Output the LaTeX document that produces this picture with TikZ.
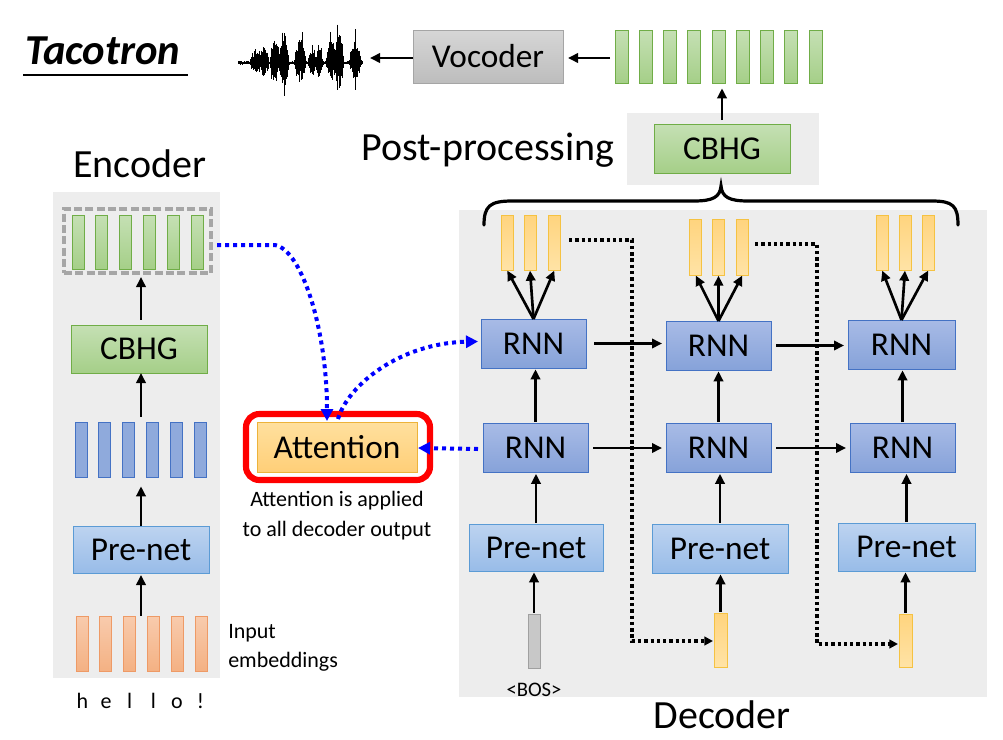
\documentclass[tikz,border=0pt]{standalone}
\usepackage{fontspec}
\setmainfont{Carlito}
\usetikzlibrary{arrows.meta,calc}
\definecolor{bgG}{HTML}{EDEDED}
\definecolor{grnT}{HTML}{C5E0B4}
\definecolor{grnB}{HTML}{A5CF88}
\definecolor{grnD}{HTML}{70AD47}
\definecolor{bluF}{HTML}{8FAADC}
\definecolor{bluD}{HTML}{4472C4}
\definecolor{rnnT}{HTML}{A8BBE6}
\definecolor{rnnB}{HTML}{86A2D9}
\definecolor{preT}{HTML}{BDD3F0}
\definecolor{preB}{HTML}{98BCE8}
\definecolor{preD}{HTML}{5B9BD5}
\definecolor{orgT}{HTML}{F8CBAD}
\definecolor{orgB}{HTML}{F4B183}
\definecolor{orgD}{HTML}{EE9A66}
\definecolor{ylwT}{HTML}{FFD47E}
\definecolor{ylwB}{HTML}{FFE3A6}
\definecolor{ylwD}{HTML}{F5C242}
\definecolor{attT}{HTML}{FFE09E}
\definecolor{attB}{HTML}{FFCF78}
\definecolor{attD}{HTML}{EDB33A}
\definecolor{vocT}{HTML}{D6D6D6}
\definecolor{vocB}{HTML}{BDBDBD}
\definecolor{vocD}{HTML}{A5A5A5}
\definecolor{bosF}{HTML}{C8C8C8}
\definecolor{bosD}{HTML}{A0A0A0}
\definecolor{dashG}{HTML}{A6A6A6}
\begin{document}
\begin{tikzpicture}[x=0.75pt,y=-0.75pt,
  sz/.style 2 args={minimum width=#1*0.75pt, minimum height=#2*0.75pt, inner sep=0pt, outer sep=0pt},
  big/.style={font=\fontsize{30}{36}\selectfont},
  mid/.style={font=\fontsize{25}{30}\selectfont},
  small/.style={font=\fontsize{16.5}{19.5}\selectfont},
  gbar/.style={draw=grnD, line width=0.6pt, top color=grnT, bottom color=grnB, sz={12}{54}},
  bbar/.style={draw=bluD, line width=0.6pt, fill=bluF, sz={12}{55}},
  obar/.style={draw=orgD, line width=0.6pt, top color=orgT, bottom color=orgB, sz={12}{55}},
  ybar/.style={draw=ylwD, line width=0.6pt, top color=ylwT, bottom color=ylwB, sz={12}{55}},
  cbhgbox/.style={draw=grnD, line width=0.6pt, top color=grnT, bottom color=grnB, sz={136}{48}, mid},
  rnnbox/.style={draw=bluD, line width=0.6pt, top color=rnnT, bottom color=rnnB, sz={105}{49}, mid},
  prebox/.style={draw=preD, line width=0.6pt, top color=preT, bottom color=preB, sz={136}{48}, mid},
  arr/.style={line width=2pt, -{Triangle[length=7.5pt,width=7pt]}},
  bdot/.style={draw={rgb,255:red,0;green,0;blue,255}, line width=3pt, dash pattern=on 3pt off 3pt, -{Triangle[length=9pt,width=9pt]}},
  kdot/.style={line width=2.4pt, dash pattern=on 2.5pt off 2.2pt, -{Triangle[length=6.5pt,width=6.5pt]}}
]
\useasboundingbox (0,0) rectangle (1003,739);
% backgrounds
\fill[bgG] (53,192) rectangle (220,678);
\fill[bgG] (459,210) rectangle (987,697);
\fill[bgG] (627,113) rectangle (819,185);

% title
\node[anchor=base west, inner sep=0pt, font=\fontsize{32}{38}\selectfont\bfseries\itshape] (title) at (25,64) {Tacotron};
\draw[line width=1.6pt] (title.south west |- 0,75) ++(-2,0) -- (188,75);

% waveform
\pgfmathsetseed{11}
\draw[line width=1.2pt] (238,63) -- (362,63);
\foreach \x in {238,238.5,...,362}{
  \pgfmathsetmacro\e{2 + 12*max(0,1-((\x-255)/5)^2) + 16*max(0,1-((\x-264)/5)^2) + 24*max(0,1-((\x-275)/5)^2) + 30*max(0,1-((\x-284)/5)^2) + 22*max(0,1-((\x-300)/6)^2) + 16*max(0,1-((\x-312)/4)^2) + 17*max(0,1-((\x-319)/4)^2) + 22*max(0,1-((\x-331)/5)^2) + 30*max(0,1-((\x-339)/5)^2) + 20*max(0,1-((\x-355)/6)^2)}
  \pgfmathsetmacro\s{rnd>0.93 ? 1.6 : 1}
  \pgfmathsetmacro\u{\s*\e*(0.45+0.55*rnd)}
  \pgfmathsetmacro\d{\s*0.8*\e*(0.35+0.65*rnd)}
  \draw[line width=0.55pt] (\x,63-\u) -- (\x,63+\d);
}
\coordinate (wave) at (370,58);

% vocoder and top bars
\node[draw=vocD, line width=0.6pt, top color=vocT, bottom color=vocB, sz={150}{53}, mid] (voc) at (488,56.5) {Vocoder};
\draw[arr] (voc.west |- wave) -- (wave);
\foreach \i in {1,...,9}{
  \node[gbar, sz={13}{53}] (tb\i) at ({621.5+24.25*(\i-1)},56.5) {};
}
\draw[arr, shorten <=3.75pt, shorten >=3.75pt] (tb1.west |- wave) -- (voc.east |- wave);

% post-processing
\node[cbhgbox, sz={136}{49}] (cbhgp) at (722,148.5) {CBHG};
\draw[arr, shorten <=3pt, shorten >=4pt] (cbhgp.north) -- (cbhgp.north |- tb5.south);
\node[big, anchor=base, inner sep=0pt] (pp) at (488,160) {Post-processing};

% brace
\draw[line width=2.4pt, line cap=round] (484,225) .. controls (484,206) and (490,201) .. (512,201) -- (694,201) .. controls (713,201) and (720,197) .. (721,186) .. controls (722,197) and (729,201) .. (748,201) -- (932,201) .. controls (953,201) and (958,206) .. (958,225);

% encoder
\node[big, anchor=base, inner sep=0pt] (enc) at (140,177) {Encoder};
\node[draw=dashG, line width=2.4pt, dash pattern=on 6pt off 2.5pt, sz={147}{64}] (encout) at (137.5,241) {};
\foreach \i in {1,...,6}{
  \node[gbar] (eg\i) at ({78+23.8*(\i-1)},242) {};
  \node[bbar] (eb\i) at ({81+23.8*(\i-1)},449.5) {};
  \node[obar] (eo\i) at ({82+23.8*(\i-1)},643.5) {};
}
\node[cbhgbox] (cbhge) at (139,349) {CBHG};
\node[prebox, sz={136}{47}] (pree) at (141,549.5) {Pre-net};
\draw[arr, shorten <=4pt, shorten >=3pt] (cbhge.north -| 141,0) -- (encout.south -| 141,0);
\draw[arr, shorten <=4pt] (eb3.north -| 141,0) -- (cbhge.south -| 141,0);
\draw[arr, shorten >=7pt] (pree.north -| 141,0) -- (eb3.south -| 141,0);
\draw[arr, shorten >=1.5pt] (eo3.north -| 141,0) -- (pree.south -| 141,0);
\node[small, anchor=north west, align=left, inner sep=0pt] (inemb) at (228,624) {Input\\[2pt]embeddings};
\foreach \i/\c in {1/h,2/e,3/l,4/l,5/o,6/!}{
  \node[small, anchor=base, inner sep=0pt] (ch\i) at ({82.5+23.6*(\i-1)},708) {\c};
}

% attention
\node[draw={rgb,255:red,255;green,0;blue,0}, line width=4.6pt, rounded corners=10pt, sz={184}{66}] (attframe) at (338,447) {};
\node[draw=attD, line width=0.6pt, top color=attT, bottom color=attB, sz={160}{50}, mid] (att) at (337,447) {Attention};
\node[small, anchor=north, align=center, inner sep=0pt] (attcap) at (337,491) {Attention is applied\\[3pt]to all decoder output};

% decoder
\node[big, anchor=base, inner sep=0pt] (dec) at (722,728) {Decoder};
\node[rnnbox] (r11) at (533.5,343.5) {RNN};
\node[rnnbox] (r12) at (718.5,345.5) {RNN};
\node[rnnbox, sz={107}{49}] (r13) at (901.5,344.5) {RNN};
\node[rnnbox] (r21) at (535.5,448) {RNN};
\node[rnnbox] (r22) at (718.5,448) {RNN};
\node[rnnbox] (r23) at (902.5,448) {RNN};
\node[prebox, sz={134}{47}] (p1) at (536,547.5) {Pre-net};
\node[prebox, sz={136}{49}] (p2) at (720,548.5) {Pre-net};
\node[prebox, sz={137}{48}] (p3) at (906.5,547) {Pre-net};

\foreach \i/\x in {1/507,2/530,3/554.5}{ \node[ybar] (ya\i) at (\x,242.5) {}; }
\foreach \i/\x in {1/695.5,2/718.5,3/742.5}{ \node[ybar, sz={12}{56}] (yb\i) at (\x,247) {}; }
\foreach \i/\x in {1/882,2/905,3/928.5}{ \node[ybar] (yc\i) at (\x,242.5) {}; }

\node[draw=bosD, line width=0.6pt, fill=bosF, sz={12}{54}] (bos) at (534,641) {};
\node[font=\fontsize{15.5}{18}\selectfont, anchor=base, inner sep=0pt] (bostxt) at (534,696) {<BOS>};
\node[ybar, sz={13}{54}] (b2) at (720.5,640) {};
\node[ybar, sz={13}{53}] (b3) at (905.5,640.5) {};

% fan arrows
\foreach \c/\r in {a/r11,b/r12,c/r13}{
  \foreach \i in {1,2,3}{
    \draw[arr, shorten >=0.5pt] (\r.north) -- (y\c\i.south);
  }
}
% vertical arrows
\draw[arr, shorten <=1pt, shorten >=1pt] (bos.north) -- (bos.north |- p1.south);
\draw[arr, shorten <=1pt, shorten >=1pt] (b2.north) -- (b2.north |- p2.south);
\draw[arr, shorten <=1pt, shorten >=1pt] (b3.north) -- (b3.north |- p3.south);
\draw[arr, shorten <=1pt, shorten >=1pt] (p1.north) -- (p1.north |- r21.south);
\draw[arr, shorten <=1pt, shorten >=1pt] (p2.north) -- (p2.north |- r22.south);
\draw[arr, shorten <=1pt, shorten >=1pt] (p3.north) -- (p3.north |- r23.south);
\draw[arr, shorten <=1pt, shorten >=1pt] (r21.north) -- (r21.north |- r11.south);
\draw[arr, shorten <=1pt, shorten >=1pt] (r22.north) -- (r22.north |- r12.south);
\draw[arr, shorten <=1pt, shorten >=1pt] (r23.north) -- (r23.north |- r13.south);
% horizontal arrows
\draw[arr, shorten <=6pt, shorten >=3pt] (r11.east) -- (r11.east -| r12.west);
\draw[arr, shorten <=4pt, shorten >=3pt] (r21.east) -- (r21.east -| r22.west);
\draw[arr, shorten <=4pt, shorten >=3pt] (r12.east) -- (r12.east -| r13.west);
\draw[arr, shorten <=4pt, shorten >=3pt] (r22.east) -- (r22.east -| r23.west);

% dotted feedback
\coordinate (d1s) at (569,240);
\coordinate (d1c) at (632,240);
\draw[kdot] (d1s) -- (d1c) |- ($(b2.west)+(-1,1)$);
\coordinate (d2s) at (755,244);
\coordinate (d2c) at (817,244);
\draw[kdot] (d2s) -- (d2c) |- ($(b3.west)+(-1,3.5)$);

% blue dotted attention arrows
\coordinate (e1) at (217,245);
\coordinate (e2) at (275,245);
\draw[bdot] (e1) -- (e2) .. controls (302,250) and (327,330) .. ($(att.north)+(-10,-1)$);
\draw[bdot] ($(att.north)+(1,-3)$) .. controls (348,385) and (400,343) .. ($(r11.west)+(-3,-2)$);
\draw[bdot] ($(r21.west)+(-5,1)$) -- ($(att.east)+(1,1)$);
\end{tikzpicture}
\end{document}
